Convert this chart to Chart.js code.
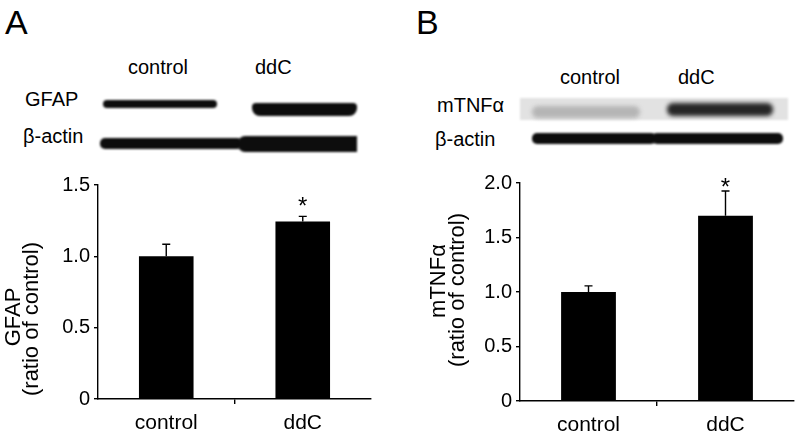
<!DOCTYPE html>
<html>
<head>
<meta charset="utf-8">
<script src="https://cdn.jsdelivr.net/npm/chart.js@4.4.1/dist/chart.umd.min.js"></script>
<style>
body{margin:0;background:#fff;font-family:"Liberation Sans",Arial,sans-serif;color:#000}
#fig{position:relative;width:800px;height:445px;overflow:hidden}
.t{position:absolute;font-size:20px;line-height:20px;white-space:nowrap}
.panel{font-size:34px;line-height:34px}
.band{position:absolute;background:#0d0d0d;filter:blur(1px)}
canvas{position:absolute;top:160px}
</style>
</head>
<body>
<div id="fig">
  <!-- painel A : western blot -->
  <div class="t panel" style="left:5px;top:5px">A</div>
  <div class="t" style="left:128px;top:57px">control</div>
  <div class="t" style="left:255px;top:57px">ddC</div>
  <div class="t" style="left:25px;top:89px">GFAP</div>
  <div class="t" style="left:23px;top:126px">β-actin</div>
  <div class="band" style="left:103px;top:100px;width:114px;height:8px;border-radius:4px"></div>
  <div class="band" style="left:252px;top:103px;width:105px;height:13px;border-radius:4px 4px 8px 8px"></div>
  <div class="band" style="left:100px;top:138px;width:142px;height:11px;border-radius:5px"></div>
  <div class="band" style="left:238px;top:136px;width:119px;height:16px;border-radius:7px 0 0 7px"></div>

  <!-- painel B : western blot -->
  <div class="t panel" style="left:416px;top:5px">B</div>
  <div class="t" style="left:560px;top:67px">control</div>
  <div class="t" style="left:678px;top:67px">ddC</div>
  <div class="t" style="left:437px;top:95px">mTNFα</div>
  <div class="t" style="left:435px;top:129px">β-actin</div>
  <div class="band" style="left:520px;top:98px;width:268px;height:22px;background:#e2e2e2"></div>
  <div class="band" style="left:532px;top:106px;width:108px;height:12px;border-radius:6px;background:#b5b5b5;filter:blur(2px)"></div>
  <div class="band" style="left:667px;top:103px;width:106px;height:13px;border-radius:6px;background:#262626;filter:blur(2px)"></div>
  <div class="band" style="left:532px;top:133px;width:124px;height:11px;border-radius:5px"></div>
  <div class="band" style="left:652px;top:133px;width:131px;height:11px;border-radius:5px"></div>

  <canvas id="chartA" width="400" height="285" style="left:0px"></canvas>
  <canvas id="chartB" width="400" height="285" style="left:400px"></canvas>
</div>
<script>
// dados
const categories = ['control', 'ddC'];
const gfapMeans = [1.0, 1.245];
const gfapErrors = [0.085, 0.035];
const gfapSig = [false, true];
const gfapMax = 1.5;
const tnfMeans = [1.0, 1.70];
const tnfErrors = [0.056, 0.227];
const tnfSig = [false, true];
const tnfMax = 2.0;
const tickStep = 0.5;

const FONT = '"Liberation Sans", Arial, sans-serif';

// barras de erro (só para cima) e asterisco
const errorBars = {
  id: 'errorBars',
  afterDatasetsDraw(chart, args, opts){
    const {ctx} = chart;
    const y = chart.scales.y;
    const meta = chart.getDatasetMeta(0);
    ctx.save();
    ctx.strokeStyle = '#000';
    ctx.lineWidth = 1.4;
    ctx.fillStyle = '#000';
    meta.data.forEach((bar, i) => {
      const top = y.getPixelForValue(opts.means[i]);
      const end = y.getPixelForValue(opts.means[i] + opts.errors[i]);
      ctx.beginPath();
      ctx.moveTo(bar.x, top); ctx.lineTo(bar.x, end);
      ctx.moveTo(bar.x - 4, end); ctx.lineTo(bar.x + 4, end);
      ctx.stroke();
      if(opts.sig[i]){
        ctx.font = '24px ' + FONT;
        ctx.textAlign = 'center';
        ctx.textBaseline = 'alphabetic';
        ctx.fillText('*', bar.x, end - opts.starGap);
      }
    });
    ctx.restore();
  }
};

// título do eixo y em duas linhas, girado
const sideTitle = {
  id: 'sideTitle',
  afterDraw(chart, args, opts){
    const ctx = chart.ctx;
    ctx.save();
    ctx.font = '22px ' + FONT;
    ctx.fillStyle = '#000';
    ctx.textAlign = 'center';
    ctx.textBaseline = 'middle';
    opts.lines.forEach((line, i) => {
      ctx.save();
      ctx.translate(opts.x[i], opts.y[i]);
      ctx.rotate(-Math.PI / 2);
      ctx.fillText(line, 0, 0);
      ctx.restore();
    });
    ctx.restore();
  }
};

function makeChart(id, means, errors, sig, yMax, cfg){
  return new Chart(document.getElementById(id), {
    type: 'bar',
    data: {
      labels: categories,
      datasets: [{data: means, backgroundColor: '#000', borderWidth: 0,
                  barPercentage: 0.4, categoryPercentage: 1.0}]
    },
    options: {
      responsive: false,
      animation: false,
      layout: {padding: {top: cfg.padTop, right: cfg.padRight, left: 0, bottom: 0}},
      plugins: {
        legend: {display: false},
        tooltip: {enabled: false},
        errorBars: {means, errors, sig, starGap: cfg.starGap},
        sideTitle: cfg.title
      },
      scales: {
        x: {
          offset: true,
          ticks: {color: '#000', font: {size: 21, family: FONT}, padding: 7},
          grid: {offset: true, drawOnChartArea: false, tickLength: 5, lineWidth: 1.4,
                 color: c => c.index === 1 ? '#000' : 'rgba(0,0,0,0)'},
          border: {color: '#000', width: 1.4},
          afterFit(s){ s.height = cfg.xHeight; }
        },
        y: {
          min: 0, max: yMax,
          ticks: {stepSize: tickStep, color: '#000', font: {size: 20, family: FONT}, padding: 4,
                  callback: v => v === 0 ? '0' : v.toFixed(1)},
          grid: {drawOnChartArea: false, tickLength: 4, lineWidth: 1.4, color: '#000'},
          border: {color: '#000', width: 1.4},
          afterFit(s){ s.width = cfg.yWidth; }
        }
      }
    },
    plugins: [errorBars, sideTitle]
  });
}

makeChart('chartA', gfapMeans, gfapErrors, gfapSig, gfapMax, {
  padTop: 25, padRight: 29, xHeight: 46, yWidth: 98, starGap: 2,
  title: {lines: ['GFAP', '(ratio of control)'], x: [14, 31.5], y: [157, 159]}
});
makeChart('chartB', tnfMeans, tnfErrors, tnfSig, tnfMax, {
  padTop: 23, padRight: 6, xHeight: 44, yWidth: 120, starGap: -4,
  title: {lines: ['mTNFα', '(ratio of control)'], x: [39, 58], y: [121, 130]}
});
</script>
</body>
</html>
